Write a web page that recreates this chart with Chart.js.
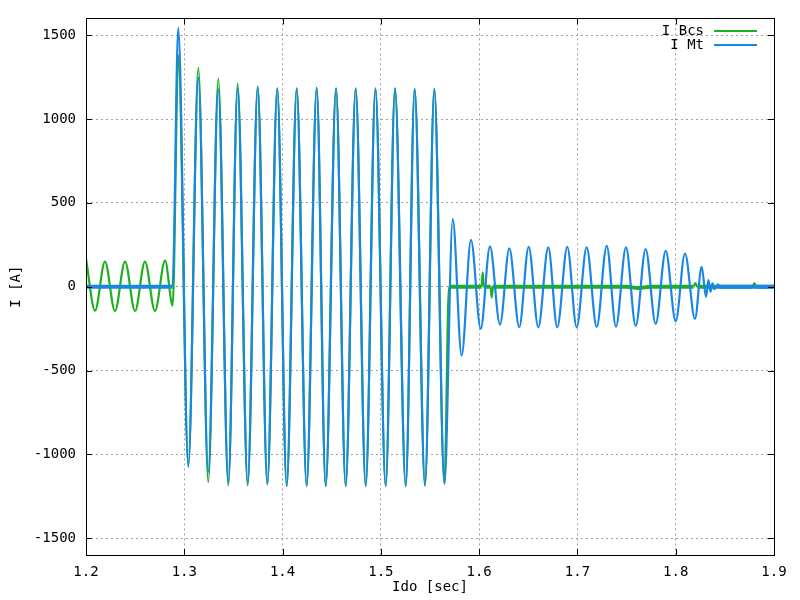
<!DOCTYPE html>
<html>
<head>
<meta charset="utf-8">
<script src="https://cdn.jsdelivr.net/npm/chart.js@4.4.0/dist/chart.umd.min.js"></script>
<style>
  html, body { margin: 0; padding: 0; background: #fff; }
  #wrap { width: 800px; height: 600px; }
</style>
</head>
<body>
<div id="wrap"><canvas id="waveChart" width="800" height="600"></canvas></div>
<script>
// === Data (peaks, troughs, flat parts) ===
const xTicks = [1.2, 1.3, 1.4, 1.5, 1.6, 1.7, 1.8, 1.9];
const yTicks = [-1500, -1000, -500, 0, 500, 1000, 1500];

// I Mt (blue)
const mtTime = [
  1.2000, 1.2880, 1.2939, 1.3041, 1.3143, 1.3244, 1.3346, 1.3448, 1.3543, 1.3645,
  1.3747, 1.3845, 1.3946, 1.4042, 1.4144, 1.4245, 1.4347, 1.4439, 1.4544, 1.4642,
  1.4744, 1.4846, 1.4945, 1.5049, 1.5144, 1.5253, 1.5344, 1.5449, 1.5544, 1.5647,
  1.5731, 1.5822, 1.5917, 1.6016, 1.6110, 1.6212, 1.6307, 1.6408, 1.6504, 1.6602,
  1.6703, 1.6795, 1.6897, 1.6992, 1.7094, 1.7196, 1.7298, 1.7392, 1.7494, 1.7593,
  1.7694, 1.7796, 1.7898, 1.8000, 1.8094, 1.8196, 1.8264, 1.8308, 1.8333, 1.8354,
  1.8374, 1.8394, 1.8420, 1.8450, 1.9000
];
const mtCurrent = [
  0, 0, 1543, -1075, 1246, -1105, 1178, -1165, 1186, -1170,
  1190, -1175, 1183, -1190, 1183, -1190, 1186, -1190, 1183, -1190,
  1183, -1190, 1183, -1190, 1183, -1190, 1180, -1185, 1180, -1175,
  403, -411, 280, -252, 240, -226, 228, -242, 238, -242,
  234, -242, 238, -242, 234, -240, 244, -238, 234, -234,
  224, -222, 214, -206, 198, -192, 119, -60, 40, -30,
  20, -15, 8, 0, 0
];

// I Bcs (green)
const bcsTime = [
  1.2000, 1.2092, 1.2193, 1.2295, 1.2397, 1.2499, 1.2600, 1.2702, 1.2804, 1.2882,
  1.2939, 1.3041, 1.3143, 1.3244, 1.3346, 1.3448, 1.3543, 1.3645, 1.3747, 1.3845,
  1.3946, 1.4042, 1.4144, 1.4245, 1.4347, 1.4439, 1.4544, 1.4642, 1.4744, 1.4846,
  1.4945, 1.5049, 1.5144, 1.5253, 1.5344, 1.5449, 1.5544, 1.5647, 1.5693,
  1.6024, 1.6036, 1.6046, 1.6116, 1.6128, 1.6141,
  1.7500, 1.7620, 1.7740, 1.8180, 1.8200, 1.8220, 1.8780, 1.8800, 1.8820, 1.9000
];
const bcsCurrent = [
  167, -143, 150, -145, 150, -145, 150, -145, 155, -113,
  1380, -1060, 1305, -1165, 1240, -1185, 1210, -1185, 1195, -1180,
  1183, -1190, 1183, -1190, 1186, -1190, 1183, -1190, 1183, -1190,
  1183, -1190, 1183, -1190, 1180, -1185, 1180, -1175, 0,
  0, 85, 0, 0, -64, 0,
  0, -8, 0, 0, 22, 0, 0, 20, 0, 0
];

const colors = { bcs: "#1db01d", mt: "#1a86e4" };
const font = { family: "'DejaVu Sans Mono', monospace", size: 14 };

const toPoints = (xs, ys) => xs.map((x, i) => ({ x, y: ys[i] }));

// flat / noisy stretches look thicker on the scope plot
const segWidth = (c) =>
  Math.abs(c.p0.parsed.y) < 10 && Math.abs(c.p1.parsed.y) < 10 ? 4 : 2.2;

// === Frame, inward ticks and legend, gnuplot style ===
const framePlugin = {
  id: "frame",
  afterDatasetsDraw(chart) {
    const { ctx, chartArea: a, scales } = chart;
    ctx.save();
    ctx.strokeStyle = "#000";
    ctx.lineWidth = 1;
    ctx.setLineDash([]);
    ctx.beginPath();
    yTicks.forEach((v) => {
      const y = Math.round(scales.y.getPixelForValue(v)) + 0.5;
      ctx.moveTo(a.left, y); ctx.lineTo(a.left + 6, y);
      ctx.moveTo(a.right, y); ctx.lineTo(a.right - 6, y);
    });
    xTicks.forEach((v) => {
      const x = Math.round(scales.x.getPixelForValue(v)) + 0.5;
      ctx.moveTo(x, a.bottom); ctx.lineTo(x, a.bottom - 6);
      ctx.moveTo(x, a.top); ctx.lineTo(x, a.top + 6);
    });
    ctx.stroke();
    ctx.strokeRect(Math.round(a.left) + 0.5, Math.round(a.top) + 0.5,
      Math.round(a.right - a.left), Math.round(a.bottom - a.top));

    // legend
    ctx.font = `${font.size}px ${font.family}`;
    ctx.fillStyle = "#000";
    ctx.textAlign = "right";
    ctx.textBaseline = "middle";
    [["I Bcs", colors.bcs, 31], ["I Mt", colors.mt, 45]].forEach(([t, c, y]) => {
      ctx.fillText(t, 704, y);
      ctx.strokeStyle = c;
      ctx.lineWidth = 2;
      ctx.beginPath();
      ctx.moveTo(714, y); ctx.lineTo(757, y);
      ctx.stroke();
    });
    ctx.restore();
  },
};

// === Chart ===
new Chart(document.getElementById("waveChart"), {
  type: "line",
  data: {
    datasets: [
      {
        label: "I Mt",
        data: toPoints(mtTime, mtCurrent),
        borderColor: colors.mt,
        borderWidth: 2.2,
        pointRadius: 0,
        cubicInterpolationMode: "monotone",
        segment: { borderWidth: segWidth },
        order: 0,
      },
      {
        label: "I Bcs",
        data: toPoints(bcsTime, bcsCurrent),
        borderColor: colors.bcs,
        borderWidth: 2.2,
        pointRadius: 0,
        cubicInterpolationMode: "monotone",
        segment: { borderWidth: segWidth },
        order: 1,
      },
    ],
  },
  options: {
    responsive: false,
    animation: false,
    layout: { padding: { top: 17, right: 26, left: 0, bottom: 0 } },
    plugins: { legend: { display: false }, tooltip: { enabled: false } },
    scales: {
      x: {
        type: "linear",
        min: 1.2,
        max: 1.9,
        afterFit: (s) => { s.height = 45; },
        afterBuildTicks: (s) => { s.ticks = xTicks.map((v) => ({ value: v })); },
        ticks: {
          font, color: "#000", padding: 9, maxRotation: 0, autoSkip: false,
          callback: (v) => Number(v).toFixed(1),
        },
        grid: { color: "#a0a0a0", lineWidth: 1, drawTicks: false },
        border: { display: false, dash: [2, 3] },
        title: { display: true, text: "Ido [sec]", font, color: "#000", padding: { top: 1 } },
      },
      y: {
        min: -1600,
        max: 1600,
        afterFit: (s) => { s.width = 86; },
        afterBuildTicks: (s) => { s.ticks = yTicks.map((v) => ({ value: v })); },
        ticks: { font, color: "#000", padding: 10, callback: (v) => String(v) },
        grid: { color: "#a0a0a0", lineWidth: 1, drawTicks: false },
        border: { display: false, dash: [2, 3] },
        title: { display: true, text: "I [A]", font, color: "#000", padding: { top: 8 } },
      },
    },
  },
  plugins: [framePlugin],
});
</script>
</body>
</html>
